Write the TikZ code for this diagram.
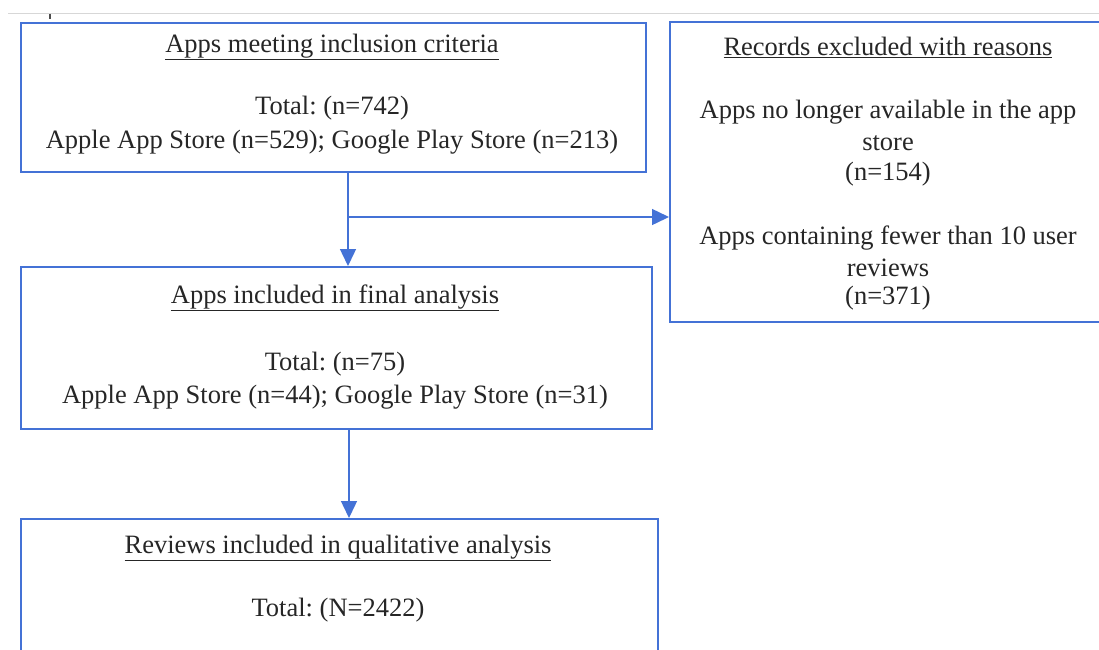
\documentclass[tikz,border=0pt]{standalone}
\usepackage{fontspec}
\setmainfont{Liberation Serif}
\usetikzlibrary{arrows.meta}
\definecolor{boxblue}{RGB}{68,114,214}
\definecolor{rulegrey}{RGB}{215,215,215}
\tikzset{
  box/.style={draw=boxblue, line width=2pt, inner sep=0pt},
  conn/.style={draw=boxblue, line width=1.4pt, -{Triangle[length=17pt,width=16pt]}},
  line/.style={draw=boxblue, line width=1.4pt},
  txt/.style={font=\fontsize{26.5}{30}\selectfont, inner sep=0pt, text=black!85},
  ttl/.style={txt}
}
\newcommand{\ul}[1]{\underline{#1}}
\frenchspacing
\begin{document}
\begin{tikzpicture}[x=1pt,y=-1pt]
\useasboundingbox (0,0) rectangle (1099,649);
\fill[white] (0,0) rectangle (1099,649);
\draw[rulegrey, line width=1.2pt] (8,13.5) -- (1099,13.5);
\draw[black!70, line width=1.2pt] (50,13.5) -- (50,19);
% boxes
\node[box, minimum width=625pt, minimum height=149pt, anchor=north west] (b1) at (20,22) {};
\node[box, minimum width=440pt, minimum height=300pt, anchor=north west] (b2) at (669,21) {};
\node[box, minimum width=631pt, minimum height=162pt, anchor=north west] (b3) at (20,266) {};
\node[box, minimum width=637pt, minimum height=160pt, anchor=north west] (b4) at (20,518) {};
% texts box 1
\node[ttl] (t1a) at (332,47) {\ul{Apps meeting inclusion criteria}};
\node[txt] (t1b) at (332,108) {Total: (n=742)};
\node[txt] (t1c) at (332,142) {Apple App Store (n=529); Google Play Store (n=213)};
% texts box 2
\node[ttl] (t2a) at (888,47) {\ul{Records excluded with reasons}};
\node[txt] (t2b) at (888,112) {Apps no longer available in the app};
\node[txt] (t2c) at (888,143) {store};
\node[txt] (t2d) at (888,174) {(n=154)};
\node[txt] (t2e) at (888,238) {Apps containing fewer than 10 user};
\node[txt] (t2f) at (888,268) {reviews};
\node[txt] (t2g) at (888,298) {(n=371)};
% texts box 3
\node[ttl] (t3a) at (335,298) {\ul{Apps included in final analysis}};
\node[txt] (t3b) at (335,364) {Total: (n=75)};
\node[txt] (t3c) at (335,397) {Apple App Store (n=44); Google Play Store (n=31)};
% texts box 4
\node[ttl] (t4a) at (338,548) {\ul{Reviews included in qualitative analysis}};
\node[txt] (t4b) at (338,610) {Total: (N=2422)};
% connectors
\coordinate (split) at (348,217);
\draw[line] (b1.south -| split) -- (split);
\draw[conn] (split) -- (b3.north -| split);
\draw[conn] (split) -- (split -| b2.west);
\draw[conn] (b3.south -| 349,0) -- (b4.north -| 349,0);
\end{tikzpicture}
\end{document}
